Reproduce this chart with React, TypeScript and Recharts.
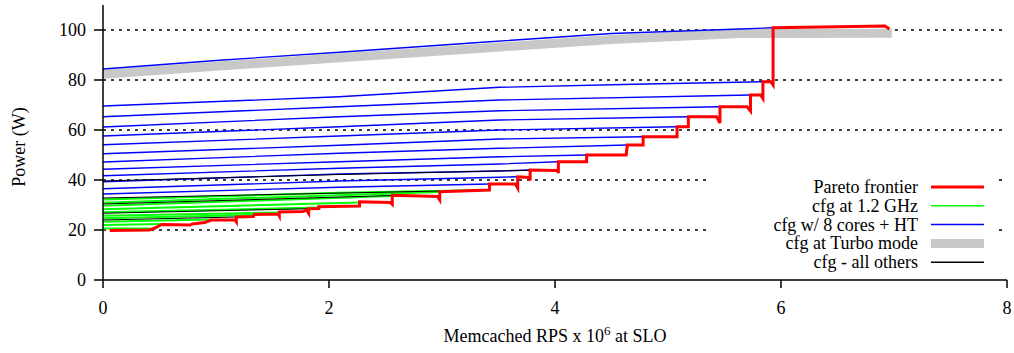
import { LineChart, Line, XAxis, YAxis, CartesianGrid, Legend, Label } from "recharts";

// [RPS x 10^6, watts]
type Pt = [number, number];

const X_TICKS = [0, 2, 4, 6, 8];
const Y_TICKS = [0, 20, 40, 60, 80, 100];
const GRID_VALUES = [20, 40, 60, 80, 100];

const PARETO_FRONTIER: Pt[] = [
  [0.06, 19.8], [0.41, 20.0], [0.45, 20.6], [0.52, 22.2], [0.77, 22.0], [0.79, 22.4],
  [0.9, 23.0], [0.96, 24.0], [1.17, 24.0], [1.18, 23.3], [1.18, 25.2], [1.33, 25.4],
  [1.34, 26.2], [1.55, 26.4], [1.56, 25.6], [1.56, 27.2], [1.77, 27.4], [1.8, 28.0],
  [1.82, 26.6], [1.82, 28.5], [1.91, 28.6], [1.91, 29.3], [2.27, 29.6], [2.27, 31.3],
  [2.54, 31.0], [2.56, 30.2], [2.56, 33.9], [2.96, 33.4], [2.98, 32.0], [2.98, 35.3],
  [3.42, 36.0], [3.42, 38.4], [3.65, 38.4], [3.67, 36.8], [3.67, 41.3], [3.77, 41.0],
  [3.78, 39.8], [3.78, 44.0], [4.02, 43.8], [4.03, 42.8], [4.03, 47.3], [4.28, 47.3],
  [4.28, 50.0], [4.63, 50.0], [4.64, 54.0], [4.78, 54.0], [4.78, 57.3], [5.08, 57.3],
  [5.08, 61.3], [5.18, 61.3], [5.18, 65.3], [5.43, 65.3], [5.46, 62.8], [5.46, 69.3],
  [5.7, 69.3], [5.73, 67.6], [5.73, 74.0], [5.82, 74.0], [5.84, 72.6], [5.84, 79.3],
  [5.91, 79.3], [5.93, 78.0], [5.93, 100.9], [6.5, 101.3], [6.92, 101.6], [6.96, 100.4],
];

const TURBO_CFG: Pt[] = [
  [0, 82.3], [1, 85.5], [2, 88.6], [3.42, 92.9], [4.5, 96.2], [5.64, 98.6], [6.98, 98.7],
];

const HT8_CFGS: Pt[][] = [
  [[0, 84.4], [1, 87.8], [2.09, 91.1], [3.42, 95.3], [4.5, 98.6], [5.64, 100.4], [5.93, 100.9]],
  [[0, 69.6], [2.09, 73.3], [3.51, 77.1], [4.7, 78.3], [5.84, 79.3]],
  [[0, 65.3], [2.09, 69.3], [3.51, 72.0], [5.73, 74.0]],
  [[0, 61.2], [2.09, 65.3], [3.51, 67.7], [5.46, 69.3]],
  [[0, 57.6], [2.09, 61.3], [3.51, 64.0], [5.18, 65.3]],
  [[0, 54.1], [2.09, 57.6], [3.51, 60.0], [5.08, 61.3]],
  [[0, 50.5], [2.09, 53.9], [3.51, 56.4], [4.78, 57.3]],
  [[0, 47.2], [2.09, 50.7], [3.51, 52.7], [4.64, 54.0]],
  [[0, 44.3], [2.09, 47.3], [3.51, 49.3], [4.28, 50.0]],
  [[0, 41.7], [2.09, 44.7], [3.51, 46.4], [4.03, 47.3]],
  [[0, 39.3], [2.09, 42.4], [3.51, 43.6], [3.78, 44.0]],
  [[0, 36.5], [2.09, 39.6], [3.51, 41.1], [3.67, 41.3]],
  [[0, 34.4], [2.09, 37.1], [3.42, 38.4]],
];

const GHZ12_CFGS: Pt[][] = [
  [[0, 20.6], [0.42, 20.6]],
  [[0, 22.0], [0.52, 22.4]],
  [[0, 23.3], [0.96, 24.2]],
  [[0, 24.7], [1.33, 26.0]],
  [[0, 25.7], [1.56, 27.0]],
  [[0, 27.1], [1.91, 29.0]],
  [[0, 28.3], [2.27, 31.0]],
  [[0, 29.7], [2.56, 33.6]],
  [[0, 30.9], [2.98, 35.2]],
  [[0, 32.2], [2.09, 34.9], [3.42, 36.0]],
];

const OTHER_CFGS: Pt[][] = [
  [[0, 39.6], [2.09, 42.2], [3.78, 43.9]],
  [[0, 32.8], [2.98, 35.6]],
  [[0, 30.4], [2.56, 33.8]],
  [[0, 26.7], [1.82, 28.5]],
  [[0, 24.0], [1.18, 25.2]],
];

const LEGEND_ITEMS = [
  { label: "Pareto frontier", color: "#ff0000", width: 3 },
  { label: "cfg at 1.2 GHz", color: "#00ff00", width: 1.5 },
  { label: "cfg w/ 8 cores + HT", color: "#0000ff", width: 1.5 },
  { label: "cfg at Turbo mode", color: "#c8c8c8", width: 9 },
  { label: "cfg - all others", color: "#000000", width: 1.5 },
];

const FONT = '"Liberation Serif", "Times New Roman", serif';
const FONT_SIZE = 18;
const TICK_STYLE = { fontFamily: FONT, fontSize: FONT_SIZE, fill: "#000" };

const toRows = (pts: Pt[]) => pts.map(([x, y]) => ({ x, y }));

function cfgLine(pts: Pt[], key: string, color: string, width: number) {
  return (
    <Line
      key={key}
      data={toRows(pts)}
      dataKey="y"
      type="linear"
      stroke={color}
      strokeWidth={width}
      dot={false}
      activeDot={false}
      legendType="none"
      isAnimationActive={false}
    />
  );
}

function renderLegend() {
  return (
    <svg width={290} height={96} style={{ display: "block", background: "#fff" }}>
      {LEGEND_ITEMS.map((item, i) => {
        const y = 11 + i * 18.8;
        return (
          <g key={item.label}>
            <text
              x={211}
              y={y}
              dy="0.33em"
              textAnchor="end"
              fontFamily={FONT}
              fontSize={FONT_SIZE}
              fill="#000"
            >
              {item.label}
            </text>
            <line x1={224} x2={277} y1={y} y2={y} stroke={item.color} strokeWidth={item.width} />
          </g>
        );
      })}
    </svg>
  );
}

type Box = { x: number; y: number; width: number; height: number };

export default function App() {
  return (
    <div style={{ position: "absolute", left: 0, top: 0, width: 1014, height: 353, background: "#fff" }}>
      <LineChart width={1014} height={353} margin={{ top: 5, right: 7, bottom: 43, left: 43 }}>
        <CartesianGrid
          vertical={false}
          horizontalValues={GRID_VALUES}
          stroke="#000"
          strokeDasharray="3 5"
          strokeWidth={1.3}
        />
        <XAxis
          type="number"
          dataKey="x"
          domain={[0, 8]}
          ticks={X_TICKS}
          allowDataOverflow
          height={30}
          tickSize={8}
          tickMargin={13}
          tick={TICK_STYLE}
          stroke="#000"
          strokeWidth={1.5}
        >
          <Label
            content={({ viewBox }) => {
              const vb = viewBox as Box;
              return (
                <text
                  x={vb.x + vb.width / 2}
                  y={vb.y + vb.height + 32}
                  textAnchor="middle"
                  fontFamily={FONT}
                  fontSize={FONT_SIZE}
                  fill="#000"
                >
                  Memcached RPS x 10
                  <tspan dy={-7} fontSize={13}>6</tspan>
                  <tspan dy={7}> at SLO</tspan>
                </text>
              );
            }}
          />
        </XAxis>
        <YAxis
          type="number"
          dataKey="y"
          domain={[0, 110]}
          ticks={Y_TICKS}
          allowDataOverflow
          width={60}
          tickSize={9}
          tickMargin={8}
          tick={TICK_STYLE}
          stroke="#000"
          strokeWidth={1.5}
        >
          <Label
            content={({ viewBox }) => {
              const vb = viewBox as Box;
              const cx = vb.x - 24;
              const cy = vb.y + vb.height / 2 + 4.5;
              return (
                <text
                  x={cx}
                  y={cy}
                  transform={`rotate(-90 ${cx} ${cy})`}
                  textAnchor="middle"
                  dominantBaseline="central"
                  fontFamily={FONT}
                  fontSize={FONT_SIZE}
                  fill="#000"
                >
                  Power (W)
                </text>
              );
            }}
          />
        </YAxis>
        <Legend
          layout="vertical"
          align="center"
          verticalAlign="middle"
          content={renderLegend}
          wrapperStyle={{ left: 707, top: 176, width: 290, height: 96 }}
        />
        {cfgLine(TURBO_CFG, "turbo", "#c8c8c8", 9)}
        {HT8_CFGS.map((pts, i) => cfgLine(pts, `ht-${i}`, "#0000ff", 1.3))}
        {GHZ12_CFGS.map((pts, i) => cfgLine(pts, `ghz-${i}`, "#00ff00", 2))}
        {OTHER_CFGS.map((pts, i) => cfgLine(pts, `other-${i}`, "#000000", 1))}
        {cfgLine(PARETO_FRONTIER, "pareto", "#ff0000", 3)}
      </LineChart>
    </div>
  );
}
